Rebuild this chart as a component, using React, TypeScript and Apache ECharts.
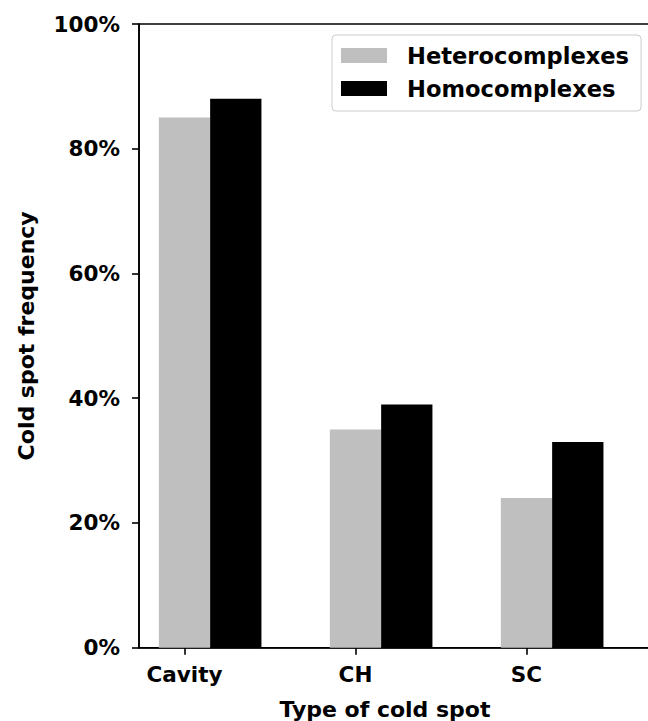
import React, { useEffect, useRef } from "react";
import * as echarts from "echarts";

// Cold spot frequency by type, for hetero- and homo-complexes
const categories = ["Cavity", "CH", "SC"];
const heterocomplexes = [85, 35, 24];
const homocomplexes = [88, 39, 33];
const yTicks = [0, 20, 40, 60, 80, 100];

const BAR_UNITS = 0.3; // width of one bar in category units
const FONT = "DejaVu Sans";

// the plot runs past the right edge of the visible frame
const CHART_W = 680;
const CHART_H = 721;

export default function App() {
  const ref = useRef<HTMLDivElement>(null);

  useEffect(() => {
    if (!ref.current) return;
    const chart = echarts.init(ref.current, undefined, { renderer: "svg" });

    const gridLeft = 139;
    const gridRight = 2;
    const xMin = -0.266;
    const xMax = 2.886;
    const pxPerUnit = (CHART_W - gridRight - gridLeft) / (xMax - xMin);
    const barWidth = BAR_UNITS * pxPerUnit;

    const heteroData = heterocomplexes.map((v, i) => [i, v]);
    const homoData = homocomplexes.map((v, i) => [i + BAR_UNITS, v]);

    chart.setOption({
      animation: false,
      backgroundColor: "#ffffff",
      textStyle: { fontFamily: FONT, fontWeight: "bold", color: "#000" },
      grid: {
        left: gridLeft,
        right: gridRight,
        top: 24,
        bottom: CHART_H - 647.7,
        outerBoundsMode: "none",
        containLabel: false,
        show: true,
        borderColor: "#000",
        borderWidth: 1.6,
      },
      legend: {
        orient: "vertical",
        left: 332,
        top: 35,
        padding: [9, 12, 11, 9],
        itemWidth: 46,
        itemHeight: 15,
        itemGap: 10,
        icon: "rect",
        borderColor: "#cccccc",
        borderWidth: 1,
        borderRadius: 4,
        backgroundColor: "#ffffff",
        textStyle: {
          fontFamily: FONT,
          fontWeight: "bold",
          fontSize: 22.6,
          lineHeight: 22,
          color: "#000",
          padding: [0, 0, 0, 15],
        },
        data: ["Heterocomplexes", "Homocomplexes"],
      },
      xAxis: {
        type: "value",
        min: xMin,
        max: xMax,
        name: "Type of cold spot",
        nameLocation: "middle",
        nameGap: 51,
        nameTextStyle: {
          fontFamily: FONT,
          fontWeight: "bold",
          fontSize: 22,
          color: "#000",
          padding: [0, 47, 0, 0],
        },
        axisLine: { show: true, lineStyle: { color: "#000", width: 1.6 } },
        axisTick: {
          show: true,
          length: 7,
          customValues: [0, 1, 2],
          lineStyle: { color: "#000", width: 1.6 },
        },
        axisLabel: {
          customValues: [0, 1, 2],
          formatter: (v: number) => categories[Math.round(v)] ?? "",
          fontFamily: FONT,
          fontWeight: "bold",
          fontSize: 21.5,
          color: "#000",
          margin: 16,
        },
        splitLine: { show: false },
      },
      yAxis: {
        type: "value",
        min: 0,
        max: 100,
        interval: 20,
        name: "Cold spot frequency",
        nameLocation: "middle",
        nameGap: 102,
        nameTextStyle: {
          fontFamily: FONT,
          fontWeight: "bold",
          fontSize: 22,
          color: "#000",
        },
        axisLine: {
          show: true,
          onZero: false,
          lineStyle: { color: "#000", width: 1.6 },
        },
        axisTick: {
          show: true,
          length: 7,
          customValues: yTicks,
          lineStyle: { color: "#000", width: 1.6 },
        },
        axisLabel: {
          formatter: (v: number) => `${v}%`,
          fontFamily: FONT,
          fontWeight: "bold",
          fontSize: 21.5,
          color: "#000",
          margin: 19,
        },
        splitLine: { show: false },
      },
      series: [
        {
          name: "Heterocomplexes",
          type: "bar",
          data: heteroData,
          barWidth,
          barGap: "-100%",
          itemStyle: { color: "#bfbfbf" },
        },
        {
          name: "Homocomplexes",
          type: "bar",
          data: homoData,
          barWidth,
          barGap: "-100%",
          itemStyle: { color: "#000000" },
        },
      ],
    });

    return () => chart.dispose();
  }, []);

  return (
    <div
      style={{
        position: "fixed",
        left: 0,
        top: 0,
        width: 648,
        height: CHART_H,
        overflow: "hidden",
        background: "#fff",
      }}
    >
      <div ref={ref} style={{ width: CHART_W, height: CHART_H }} />
    </div>
  );
}
